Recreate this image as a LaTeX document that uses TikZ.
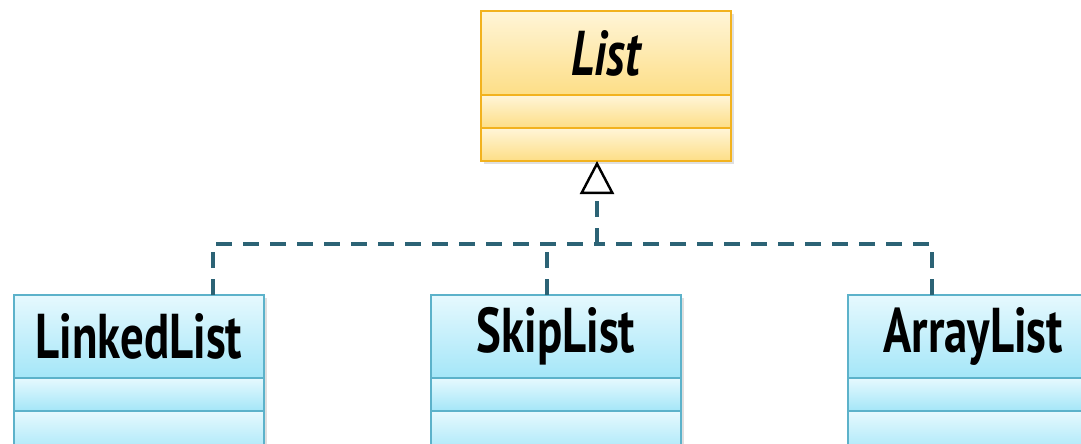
\documentclass[tikz,border=0pt]{standalone}
\usepackage{fontspec}
\setmainfont{PT Sans}[FakeStretch=0.74]
\usetikzlibrary{positioning,arrows.meta,shadows}

\definecolor{gialloAlto}{HTML}{FFF5D8}
\definecolor{gialloBasso}{HTML}{FDDE86}
\definecolor{gialloBordo}{HTML}{F2B21E}
\definecolor{azzurroAlto}{HTML}{E6F9FE}
\definecolor{azzurroBasso}{HTML}{A4E6F8}
\definecolor{azzurroBordo}{HTML}{5CB2CA}
\definecolor{lineaScura}{HTML}{2C6375}

\begin{document}
\begin{tikzpicture}[
		% Compartimento della classe astratta (giallo, sfumato)
		abstract style/.style={rectangle, draw=gialloBordo, line width=1.2pt, top color=gialloAlto, bottom color=gialloBasso,
			minimum width=5cm, inner sep=0pt, outer sep=0pt,
			drop shadow={shadow xshift=0.05cm, shadow yshift=-0.06cm, opacity=0.25},
			font=\bfseries\itshape\fontsize{36}{36}\selectfont},
		% Compartimento delle classi concrete (azzurro, sfumato)
		class style/.style={rectangle, draw=azzurroBordo, line width=1.2pt, top color=azzurroAlto, bottom color=azzurroBasso,
			minimum width=5cm, inner sep=0pt, outer sep=0pt,
			drop shadow={shadow xshift=0.05cm, shadow yshift=-0.06cm, opacity=0.25},
			font=\bfseries\fontsize{36}{36}\selectfont},
		% Stile per le linee tratteggiate (realizzazione)
		realize style/.style={line width=2.4pt, color=lineaScura, dash pattern=on 0.32cm off 0.22cm}
	]

	\useasboundingbox (0,0) rectangle (21.62,-8.86);
	\clip (0,0) rectangle (21.62,-8.86);

	% =================================
	% CLASSE ASTRATTA (In alto)
	% =================================
	\node[abstract style, minimum height=1.68cm] (list) at (12.12,-1.06) {List};
	\node[abstract style, minimum height=0.66cm, below=0pt of list] (list attr) {};
	\node[abstract style, minimum height=0.66cm, below=0pt of list attr] (list ops) {};

	% =================================
	% CLASSI CONCRETE (In basso)
	% =================================
	\node[class style, minimum height=1.66cm] (linked) at (2.78,-6.73) {LinkedList};
	\node[class style, minimum height=0.66cm, below=0pt of linked] (linked attr) {};
	\node[class style, minimum height=0.9cm, below=0pt of linked attr] (linked ops) {};

	\node[class style, minimum height=1.66cm] (skip) at (11.12,-6.73) {SkipList};
	\node[class style, minimum height=0.66cm, below=0pt of skip] (skip attr) {};
	\node[class style, minimum height=0.9cm, below=0pt of skip attr] (skip ops) {};

	\node[class style, minimum height=1.66cm] (array) at (19.46,-6.73) {ArrayList};
	\node[class style, minimum height=0.66cm, below=0pt of array] (array attr) {};
	\node[class style, minimum height=0.9cm, below=0pt of array attr] (array ops) {};

	% =================================
	% CONNESSIONI (Realizzazione)
	% =================================
	% Punto di raccolta sotto la freccia
	\coordinate (bus) at (11.94,-4.88);

	\draw[realize style, -{Triangle[length=0.66cm, width=0.68cm, line width=1.4pt, color=black, fill=white]}]
		(bus) -- (bus |- list ops.south);
	\draw[realize style] ([xshift=1.48cm]linked.north) |- (bus);
	\draw[realize style] ([xshift=-0.82cm]array.north) |- (bus);
	\draw[realize style] ([xshift=-0.18cm]skip.north) -- ([xshift=-0.18cm]skip.north |- bus);

\end{tikzpicture}
\end{document}
